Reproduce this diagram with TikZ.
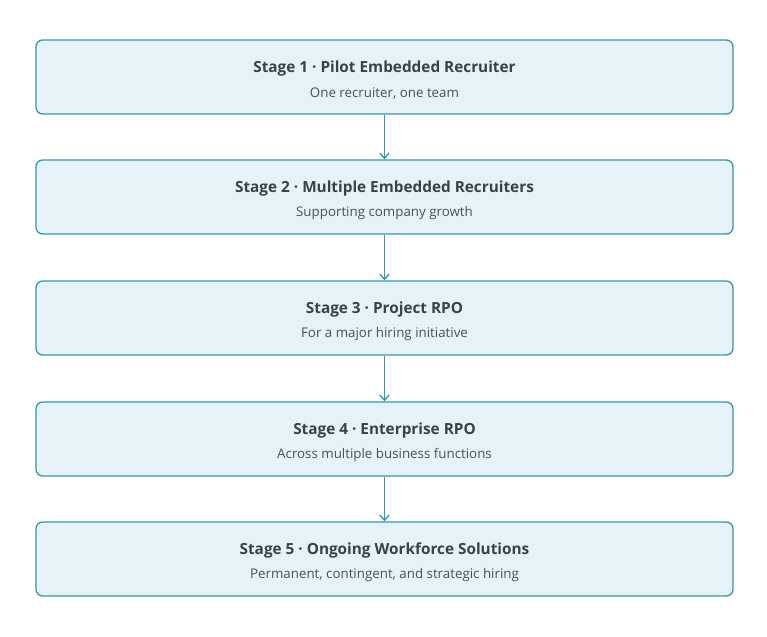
\documentclass[tikz,border=0pt]{standalone}
\usepackage{fontspec}
\setmainfont{Open Sans}
\usetikzlibrary{arrows.meta}
\definecolor{boxfill}{HTML}{E5F2F8}
\definecolor{boxline}{HTML}{3A96A8}
\definecolor{titlec}{HTML}{3A4148}
\definecolor{subc}{HTML}{4A5058}
\begin{document}
\begin{tikzpicture}[x=0.75pt,y=-0.75pt,
  stage/.style={draw=boxline,line width=1pt,fill=boxfill,rounded corners=5pt,minimum width=697*0.75pt,minimum height=74*0.75pt},
  ttl/.style={font=\fontsize{11.5pt}{13pt}\selectfont\bfseries,text=titlec},
  sub/.style={font=\fontsize{10pt}{12pt}\selectfont,text=subc},
  arr/.style={draw=boxline,line width=1pt,-{Straight Barb[length=4pt,width=7pt]}}]
\useasboundingbox (0,0) rectangle (767,636);
\foreach \n/\y/\t/\s in {1/77/Stage 1 · Pilot Embedded Recruiter/{One recruiter, one team},
  2/197/Stage 2 · Multiple Embedded Recruiters/Supporting company growth,
  3/318/Stage 3 · Project RPO/For a major hiring initiative,
  4/439/Stage 4 · Enterprise RPO/Across multiple business functions,
  5/559/Stage 5 · Ongoing Workforce Solutions/{Permanent, contingent, and strategic hiring}}{
  \node[stage] (b\n) at (384.5,\y) {};
  \node[ttl] (t\n) at (384.5,\y-8.5) {\t};
  \node[sub] (s\n) at (384.5,\y+16) {\s};
}
\foreach \a/\b in {1/2,2/3,3/4,4/5}{\draw[arr] (b\a.south) -- (b\b.north);}
\end{tikzpicture}
\end{document}
